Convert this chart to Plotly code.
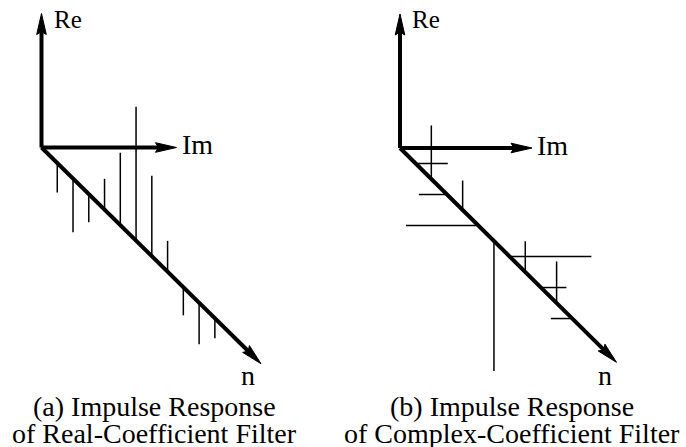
import math
import plotly.graph_objects as go

# ---- data -------------------------------------------------------------
taps = list(range(11))

# impulse response of the real-coefficient (lowpass) filter
h_real = [-0.22, -0.40, -0.21, 0.23, 0.54, 1.00, 0.60, 0.23, -0.21, -0.31, -0.15]

# impulse response of the complex-coefficient filter (real / imaginary parts)
hc_re = [0.00, 0.40, 0.00, 0.22, 0.00, -0.97, 0.00, 0.23, 0.00, 0.31, 0.00]
hc_im = [0.24, 0.00, -0.21, 0.00, -0.54, 0.00, 0.61, 0.00, 0.19, 0.00, -0.16]

label_re = "Re"
label_im = "Im"
label_n = "n"
caption_a = ["(a) Impulse Response", "of Real-Coefficient Filter"]
caption_b = ["(b) Impulse Response", "of Complex-Coefficient Filter"]

# ---- layout / style ----------------------------------------------------
W, H = 686, 447
FONT = "Liberation Serif"
INK = "black"

panel_a = dict(ox=41.5, oy=147.5, step=15.76, slope=0.985, amp=134,
               re_len=134.0, im_len=135.0, n_len=219.5,
               re_lbl=(53.0, 28.3), im_lbl=(181.0, 154.0), n_lbl=(248.0, 385.0),
               cap_x=154.5)
panel_b = dict(ox=400.0, oy=148.0, step=15.66, slope=0.99, amp=134,
               re_len=134.0, im_len=132.0, n_len=216.5,
               re_lbl=(411.0, 28.3), im_lbl=(536.0, 155.0), n_lbl=(605.0, 385.0),
               cap_x=512.0)

AXIS_W = 4.0
STEM_W = 1.5
HEAD_L, HEAD_HW, HEAD_NOTCH = 21.0, 4.8, 3.0


def project(p, k, re=0.0, im=0.0):
    """Oblique projection of (tap, Re, Im) onto the page."""
    t = p["step"] * (k + 1)
    return p["ox"] + t + im * p["amp"], p["oy"] + p["slope"] * t - re * p["amp"]


def arrow_head(tip, ux, uy):
    tx, ty = tip
    px, py = -uy, ux
    bx, by = tx - HEAD_L * ux, ty - HEAD_L * uy
    nx, ny = tx - (HEAD_L - HEAD_NOTCH) * ux, ty - (HEAD_L - HEAD_NOTCH) * uy
    xs = [tx, bx + HEAD_HW * px, nx, bx - HEAD_HW * px, tx]
    ys = [ty, by + HEAD_HW * py, ny, by - HEAD_HW * py, ty]
    return xs, ys


fig = go.Figure()
annotations = []


def add_segments(xs, ys, width):
    fig.add_trace(go.Scatter(x=xs, y=ys, mode="lines", hoverinfo="skip",
                             line=dict(color=INK, width=width), showlegend=False))


def draw_axes(p):
    ox, oy = p["ox"], p["oy"]
    n_dx = 1.0 / math.hypot(1.0, p["slope"])
    n_dy = p["slope"] * n_dx
    tips = [
        ((ox, oy - p["re_len"]), (0.0, -1.0)),
        ((ox + p["im_len"], oy), (1.0, 0.0)),
        ((ox + p["n_len"], oy + p["slope"] * p["n_len"]), (n_dx, n_dy)),
    ]
    xs, ys = [], []
    for (tx, ty), (ux, uy) in tips:
        ex, ey = tx - (HEAD_L - 4) * ux, ty - (HEAD_L - 4) * uy
        xs += [ox, ex, None]
        ys += [oy, ey, None]
    add_segments(xs, ys, AXIS_W)
    for tip, (ux, uy) in tips:
        hx, hy = arrow_head(tip, ux, uy)
        fig.add_trace(go.Scatter(x=hx, y=hy, mode="lines", fill="toself",
                                 fillcolor=INK, line=dict(color=INK, width=1),
                                 hoverinfo="skip", showlegend=False))


def text(x, y_base, s, size, anchor="left"):
    annotations.append(dict(x=x, y=y_base - 0.34 * size, xref="x", yref="y",
                            text=s, showarrow=False, xanchor=anchor,
                            yanchor="middle", borderpad=0,
                            font=dict(family=FONT, size=size, color=INK)))


def draw_labels(p, caption):
    text(p["re_lbl"][0], p["re_lbl"][1], label_re, 25)
    text(p["im_lbl"][0], p["im_lbl"][1], label_im, 28)
    text(p["n_lbl"][0], p["n_lbl"][1], label_n, 28, "center")
    text(p["cap_x"], 416.5, caption[0], 28, "center")
    text(p["cap_x"], 443.5, caption[1], 28, "center")


# (a) real-coefficient filter: every tap lies in the Re direction
draw_axes(panel_a)
xs, ys = [], []
for k, v in zip(taps, h_real):
    x0, y0 = project(panel_a, k)
    x1, y1 = project(panel_a, k, re=v)
    xs += [x0, x1, None]
    ys += [y0, y1, None]
add_segments(xs, ys, STEM_W)
draw_labels(panel_a, caption_a)

# (b) complex-coefficient filter: Re part vertical, Im part horizontal
draw_axes(panel_b)
xs, ys = [], []
for k, re, im in zip(taps, hc_re, hc_im):
    x0, y0 = project(panel_b, k)
    if re != 0:
        x1, y1 = project(panel_b, k, re=re)
        xs += [x0, x1, None]
        ys += [y0, y1, None]
    if im != 0:
        x1, y1 = project(panel_b, k, im=im)
        xs += [x0, x1, None]
        ys += [y0, y1, None]
add_segments(xs, ys, STEM_W)
draw_labels(panel_b, caption_b)

fig.update_layout(
    width=W, height=H,
    margin=dict(l=0, r=0, t=0, b=0),
    paper_bgcolor="white", plot_bgcolor="white",
    xaxis=dict(range=[0, W], visible=False, fixedrange=True),
    yaxis=dict(range=[H, 0], visible=False, fixedrange=True),
    annotations=annotations,
    showlegend=False,
)

fig.write_html("out.html", config={"displayModeBar": False})
